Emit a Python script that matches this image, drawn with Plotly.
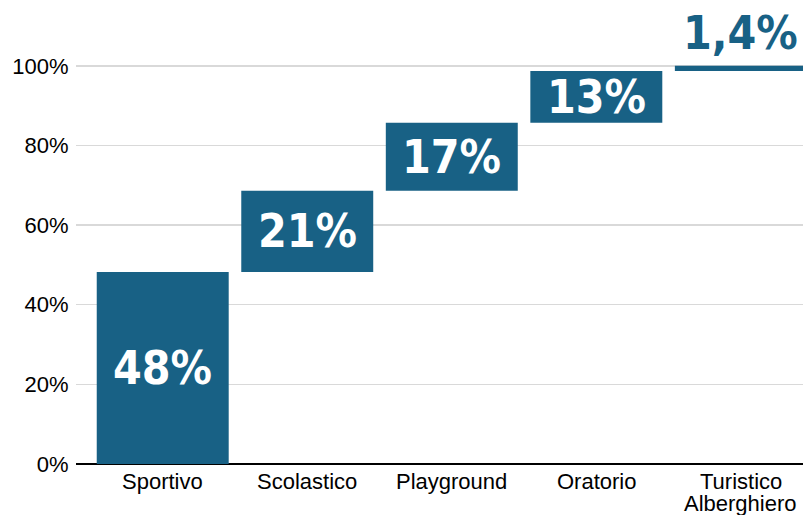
import plotly.graph_objects as go

categories = ["Sportivo", "Scolastico", "Playground", "Oratorio", "Turistico Alberghiero"]
tick_lines = [["Sportivo"], ["Scolastico"], ["Playground"], ["Oratorio"], ["Turistico", "Alberghiero"]]
values = [48.2, 20.4, 17.1, 13.0, 1.3]
labels = ["48%", "21%", "17%", "13%", "1,4%"]
yticks = [0, 20, 40, 60, 80, 100]
yticklabels = ["0%", "20%", "40%", "60%", "80%", "100%"]

bases = []
acc = 0
for v in values:
    bases.append(acc)
    acc += v

bar_color = "#186185"
label_font = "DejaVu Sans Condensed, Liberation Sans Narrow, sans-serif"
axis_font = "Liberation Sans, Arial, sans-serif"

fig = go.Figure()
fig.add_trace(go.Bar(
    x=categories, y=values, base=bases,
    marker=dict(color=bar_color, line=dict(width=0)),
    width=0.913, hoverinfo="skip",
))

annotations = []
for c, v, b, t in zip(categories, values, bases, labels):
    if v >= 5:
        annotations.append(dict(x=c, y=b + v / 2, xref="x", yref="y", text="<b>" + t + "</b>",
                                showarrow=False, yanchor="middle",
                                font=dict(family=label_font, size=46, color="white")))
    else:
        annotations.append(dict(x=c, y=b + v, xref="x", yref="y", text="<b>" + t + "</b>",
                                showarrow=False, yanchor="bottom", yshift=4,
                                font=dict(family=label_font, size=46, color=bar_color)))

# category labels below the axis (one text per line, tighter line spacing)
for c, lines in zip(categories, tick_lines):
    for k, line in enumerate(lines):
        annotations.append(dict(x=c, y=0, xref="x", yref="paper", text=line,
                                showarrow=False, yanchor="top", yshift=-3 - 22 * k,
                                font=dict(family=axis_font, size=22, color="black")))

fig.update_layout(
    width=803, height=515,
    margin=dict(l=76, r=0, t=26, b=51),
    plot_bgcolor="white", paper_bgcolor="white",
    showlegend=False,
    annotations=annotations,
    xaxis=dict(
        range=[-0.6, 4.43], showgrid=False, zeroline=False, showline=False,
        showticklabels=False, ticks="", automargin=False, fixedrange=True,
    ),
    yaxis=dict(
        range=[0, 110], tickvals=yticks, ticktext=yticklabels,
        showgrid=True, gridcolor="#d9d9d9", gridwidth=1.5,
        zeroline=True, zerolinecolor="black", zerolinewidth=2,
        showline=False, ticks="outside", ticklen=2, tickcolor="rgba(0,0,0,0)",
        tickfont=dict(family=axis_font, size=22, color="black"),
        automargin=False, fixedrange=True,
    ),
)

fig.write_html(
    "out.html",
    config={"displayModeBar": False, "staticPlot": True},
    post_script="document.body.style.margin='0';document.body.style.overflow='hidden';",
)
